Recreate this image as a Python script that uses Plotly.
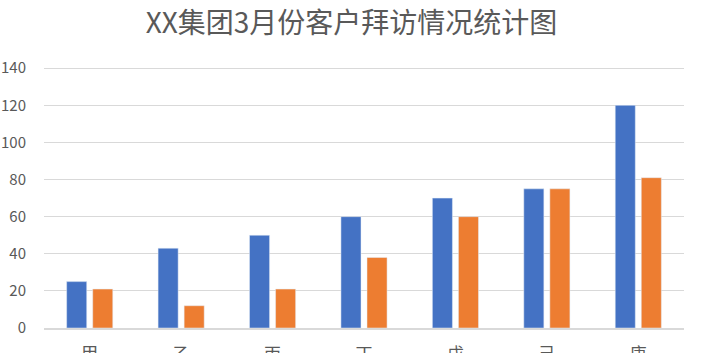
import plotly.graph_objects as go

categories = ["甲", "乙", "丙", "丁", "戊", "己", "庚"]
series_a = [25, 43, 50, 60, 70, 75, 120]
series_b = [21, 12, 21, 38, 60, 75, 81]
y_ticks = [0, 20, 40, 60, 80, 100, 120, 140]

font_family = "Noto Sans CJK SC, Noto Sans, sans-serif"

fig = go.Figure()
fig.add_trace(go.Bar(x=categories, y=series_a, marker_color="#4472C4", name="A"))
fig.add_trace(go.Bar(x=categories, y=series_b, marker_color="#ED7D31", name="B"))

fig.update_layout(
    width=703, height=353,
    margin=dict(l=44, r=19, t=66, b=25, autoexpand=False),
    paper_bgcolor="white", plot_bgcolor="white",
    barmode="group", bargap=0.43, bargroupgap=0.23,
    showlegend=False,
    title=dict(text="XX集团3月份客户拜访情况统计图", x=0.5, xanchor="center",
               y=0.935, yanchor="middle",
               font=dict(family=font_family, size=28, color="#595959")),
    font=dict(family=font_family, color="#595959"),
)
fig.update_yaxes(range=[0, 141.2], tickvals=y_ticks, showgrid=True, gridcolor="#d9d9d9",
                 gridwidth=1.3, zeroline=False, tickfont=dict(size=15, color="#595959"),
                 ticks="", ticklabelstandoff=17, showline=False, automargin=False)
fig.update_xaxes(showline=True, linecolor="#d9d9d9", linewidth=1.5,
                 tickfont=dict(size=17, color="#595959"), ticks="", ticklabelstandoff=10,
                 automargin=False)
fig.write_html("out.html")
